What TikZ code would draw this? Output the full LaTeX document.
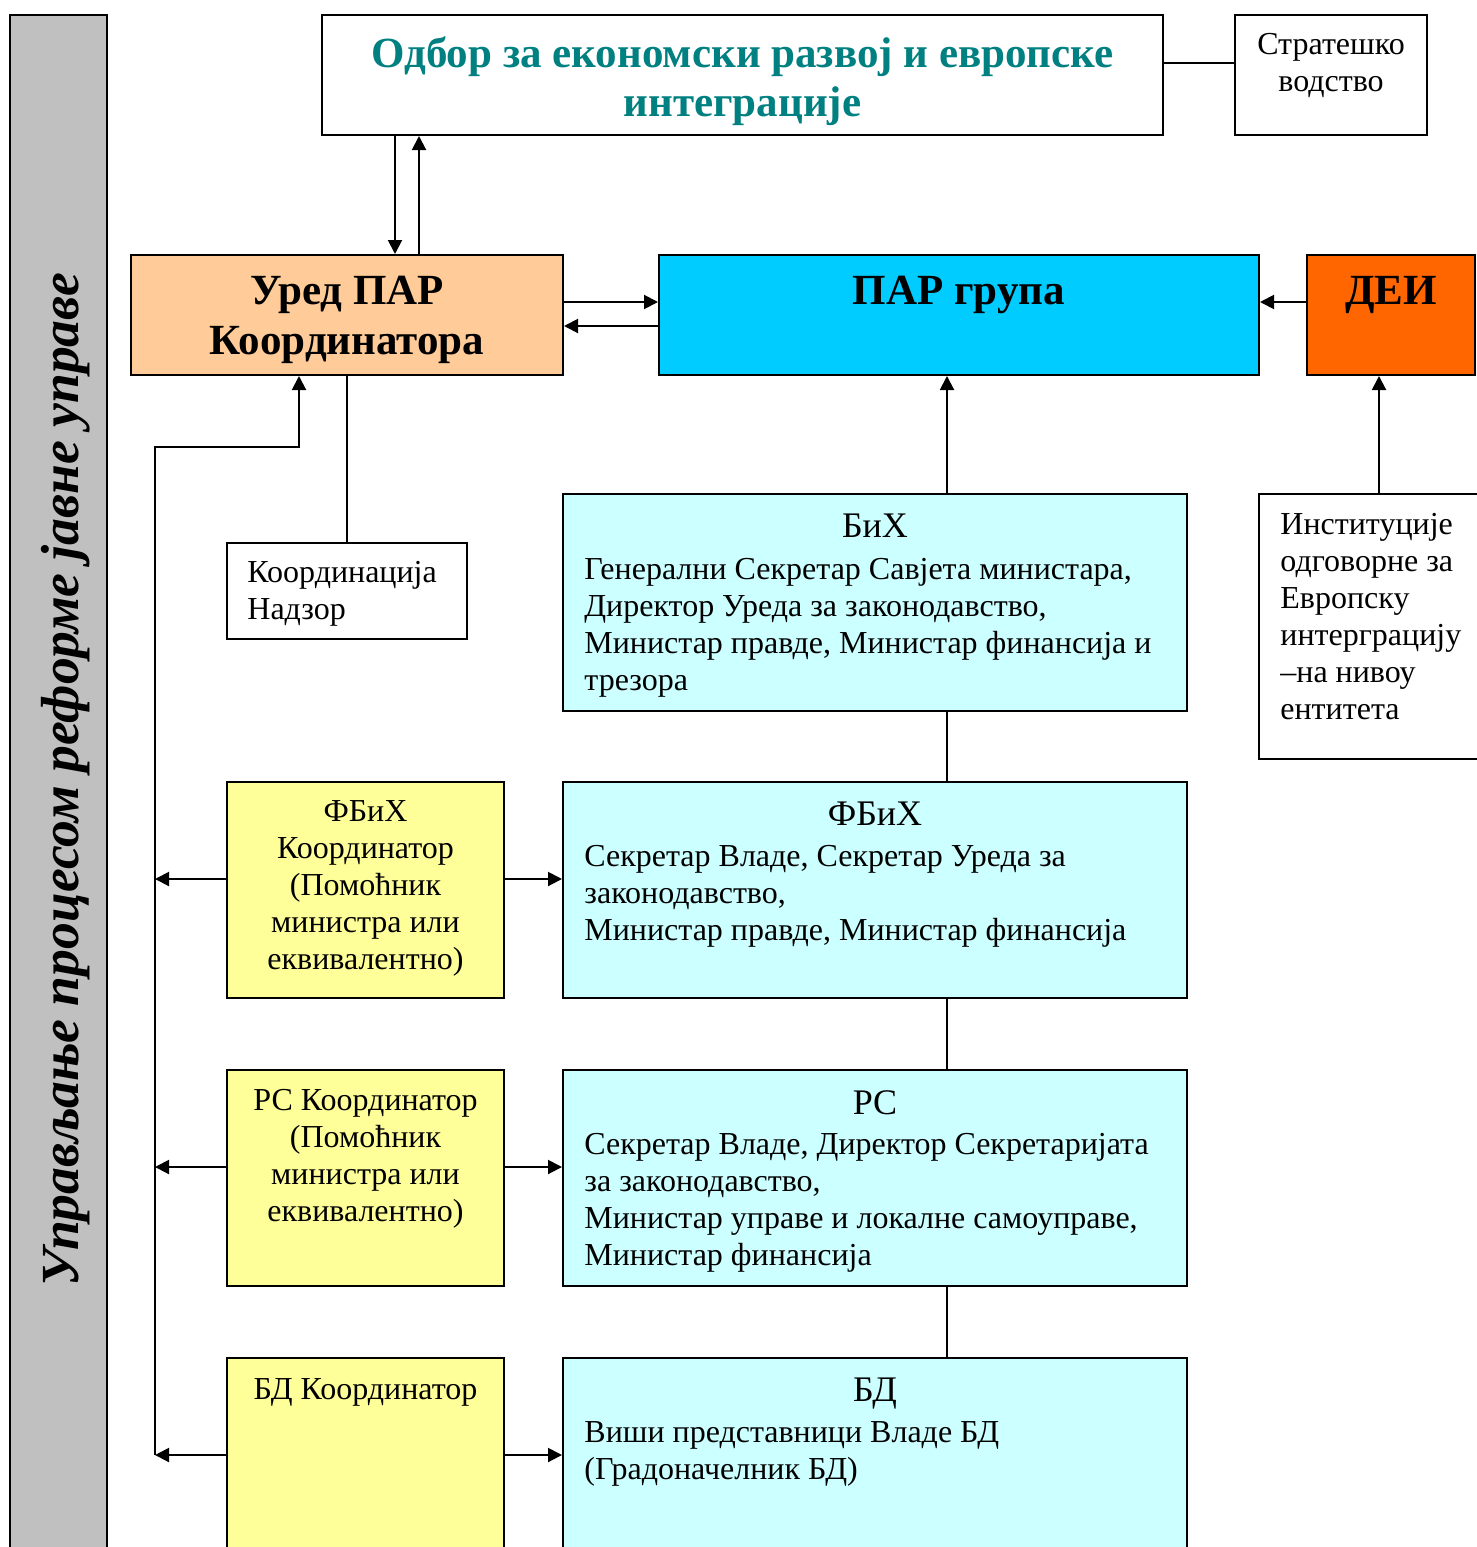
\documentclass[tikz,border=0pt]{standalone}
\usepackage{fontspec}
\setmainfont{Liberation Serif}
\usepackage{tikz}
\usetikzlibrary{arrows.meta}
\definecolor{uredfill}{HTML}{FFCC99}
\definecolor{parfill}{HTML}{00CCFF}
\definecolor{deifill}{HTML}{FF6600}
\definecolor{levelfill}{HTML}{CCFFFF}
\definecolor{coordfill}{HTML}{FFFF99}
\definecolor{barfill}{HTML}{C0C0C0}
\definecolor{odborteal}{HTML}{008080}
\def\txtsize{\fontsize{16}{18.5}\selectfont}
\def\headsize{\fontsize{18}{21}\selectfont}
\def\bigsize{\fontsize{21.5}{25}\selectfont}
\def\titlesize{\fontsize{21.5}{24.5}\selectfont}
\def\barsize{\fontsize{26.8}{30}\selectfont}

\begin{document}
\begin{tikzpicture}[x=0.5pt, y=-0.5pt]
    \tikzset{
        box/.style={draw, line width=1pt, rectangle, inner sep=0pt},
        level/.style={box, fill=levelfill, minimum width=312pt, minimum height=108pt},
        coord/.style={box, fill=coordfill, minimum width=138.5pt, minimum height=108pt},
        arr/.style={-{Triangle[length=7pt,width=7pt]}, line width=1pt},
        link/.style={line width=1pt},
        txt/.style={inner sep=0pt, font=\txtsize},
        head/.style={inner sep=0pt, font=\headsize},
        big/.style={inner sep=0pt, font=\bfseries\bigsize}
    }
    \useasboundingbox (0,0) rectangle (1477,1547);
    \clip (0,0) rectangle (1477,1547);

    % left bar
    \node[box, fill=barfill, minimum width=48.5pt, minimum height=792.5pt] (bar) at (58.5,807.5) {};
    \node[rotate=90, inner sep=0pt, font=\bfseries\itshape\barsize] (bartxt) at (66,780)
        {Управљање процесом реформе јавне управе};

    % top row
    \node[box, minimum width=420.5pt, minimum height=60pt] (odbor) at (742.5,75) {};
    \node[inner sep=0pt, font=\bfseries\titlesize, text=odborteal, align=center, anchor=north] (odbortxt)
        at (742.5,36) {Одбор за економски развој и европске\\интеграције};
    \node[box, minimum width=96pt, minimum height=60pt] (strat) at (1331,75) {};
    \node[txt, align=center, anchor=north] (strattxt) at (1331,33) {Стратешко\\водство};

    % second row
    \node[box, fill=uredfill, minimum width=216pt, minimum height=60pt] (ured) at (347,315) {};
    \node[big, align=center, anchor=north] (uredtxt) at (347,276) {Уред ПАР\\Координатора};
    \node[box, fill=parfill, minimum width=300pt, minimum height=60pt] (par) at (959,315) {};
    \node[big, anchor=north] (partxt) at (959,276) {ПАР група};
    \node[box, fill=deifill, minimum width=84pt, minimum height=60pt] (dei) at (1391,315) {};
    \node[big, anchor=north] (deitxt) at (1391,276) {ДЕИ};

    \node[box, minimum width=120pt, minimum height=48pt] (koord) at (347,591) {};
    \node[txt, align=left, anchor=north west] (koordtxt) at (247,561) {Координација\\Надзор};

    \node[box, minimum width=120pt, minimum height=132.5pt] (inst) at (1379,626.5) {};
    \node[txt, align=left, anchor=north west] (insttxt) at (1280,513)
        {Институције\\одговорне за\\Европску\\интерграцију\\–на нивоу\\ентитета};

    % levels
    \node[level, minimum height=108.5pt] (bih) at (875,602.5) {};
    \node[head, anchor=north] (bihhead) at (875,514) {БиХ};
    \node[txt, align=left, anchor=north west] (bihtxt) at (584,558)
        {Генерални Секретар Савјета министара,\\Директор Уреда за законодавство,\\Министар правде, Министар финансија и\\трезора};

    \node[coord] (fy) at (365.5,890) {};
    \node[txt, align=center, anchor=north] (fytxt) at (365.5,800)
        {ФБиХ\\Координатор\\(Помоћник\\министра или\\еквивалентно)};
    \node[level] (fc) at (875,890) {};
    \node[head, anchor=north] (fchead) at (875,802) {ФБиХ};
    \node[txt, align=left, anchor=north west] (fctxt) at (584,845)
        {Секретар Владе, Секретар Уреда за\\законодавство,\\Министар правде, Министар финансија};

    \node[coord] (ry) at (365.5,1178) {};
    \node[txt, align=center, anchor=north] (rytxt) at (365.5,1089)
        {РС Координатор\\(Помоћник\\министра или\\еквивалентно)};
    \node[level] (rc) at (875,1178) {};
    \node[head, anchor=north] (rchead) at (875,1090) {РС};
    \node[txt, align=left, anchor=north west] (rctxt) at (584,1133)
        {Секретар Владе, Директор Секретаријата\\за законодавство,\\Министар управе и локалне самоуправе,\\Министар финансија};

    \node[coord] (by) at (365.5,1466) {};
    \node[txt, align=center, anchor=north] (bytxt) at (365.5,1378) {БД Координатор};
    \node[level] (bc) at (875,1466) {};
    \node[head, anchor=north] (bchead) at (875,1378) {БД};
    \node[txt, align=left, anchor=north west] (bctxt) at (584,1421)
        {Виши представници Владе БД\\(Градоначелник БД)};

    \coordinate (bus) at (155,447);

    % connectors
    \draw[arr] ([xshift=24pt]ured.north |- odbor.south) -- ([xshift=24pt]ured.north);
    \draw[arr] ([xshift=36pt]ured.north) -- ([xshift=36pt]ured.north |- odbor.south);
    \draw[link] ([yshift=6pt]odbor.east) -- ([yshift=6pt]odbor.east -| strat.west);
    \draw[arr] ([yshift=6.5pt]ured.east) -- ([yshift=6.5pt]ured.east -| par.west);
    \draw[arr] ([yshift=-5.5pt]par.west) -- ([yshift=-5.5pt]par.west -| ured.east);
    \draw[arr] ([yshift=6.5pt]dei.west) -- ([yshift=6.5pt]dei.west -| par.east);
    \draw[arr] ([xshift=36pt]bih.north) -- ([xshift=36pt]bih.north |- par.south);
    \draw[arr] (inst.north) -- (inst.north |- dei.south);
    \draw[link] (ured.south) -- (koord.north);
    \draw[link] ([xshift=36pt]bih.south) -- ([xshift=36pt]fc.north);
    \draw[link] ([xshift=36pt]fc.south) -- ([xshift=36pt]rc.north);
    \draw[link] ([xshift=36pt]rc.south) -- ([xshift=36pt]bc.north);
    \foreach \y/\c in {fy/fc, ry/rc, by/bc} {
        \draw[arr] ([yshift=5.5pt]\y.east) -- ([yshift=5.5pt]\y.east -| \c.west);
        \draw[arr] ([yshift=5.5pt]\y.west) -- ([yshift=5.5pt]\y.west -| bus);
    }
    \draw[arr] ([yshift=5.5pt]by.west -| bus) -- (bus) -| ([xshift=-24pt]ured.south);
\end{tikzpicture}
\end{document}
